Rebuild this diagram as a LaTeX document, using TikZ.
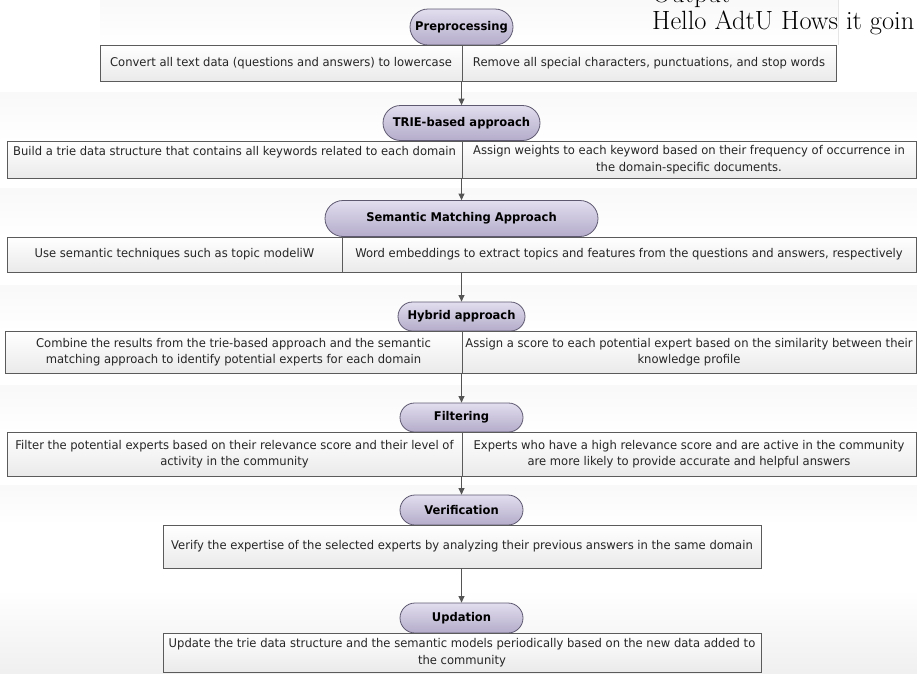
\documentclass[tikz,border=0pt]{standalone}
\usepackage{fontspec}
\usetikzlibrary{shapes.misc,arrows.meta,shadows}
\newfontfamily\dvsans[FakeStretch=0.96]{DejaVu Sans}
\definecolor{bordc}{HTML}{5B5B5B}
\definecolor{cellbot}{HTML}{EAEAEA}
\definecolor{pilltop}{HTML}{E2DDEE}
\definecolor{pillbot}{HTML}{B4ACCA}
\definecolor{pillbord}{HTML}{5E5870}
\definecolor{arrc}{HTML}{555555}
\definecolor{textc}{HTML}{262626}
\begin{document}
\begin{tikzpicture}[x=1pt,y=-1pt,
  cell/.style={draw=bordc, line width=0.8pt, top color=white, bottom color=cellbot,
    inner sep=0pt, align=center, text=textc,
    font=\dvsans\fontsize{12.05}{16.5}\selectfont,
    drop shadow={opacity=0.18, shadow xshift=0.8pt, shadow yshift=-1.2pt}},
  pill/.style={rounded rectangle, draw=pillbord, line width=0.8pt, top color=pilltop,
    bottom color=pillbot, inner sep=0pt, text=black,
    font=\dvsans\bfseries\fontsize{12}{14}\selectfont},
  arr/.style={draw=arrc, line width=1pt, -{Triangle[length=6.5pt,width=6pt]}},
  band/.style={top color=gray!5, bottom color=white, draw=none}
]
\useasboundingbox (0,0) rectangle (917,673);
\clip (0,0) rectangle (917,673);
% background bands
\path[band] (100,0) rectangle (838,45);
\draw[gray!20, line width=0.6pt] (838,0) -- (838,45);
\path[band] (0,92) rectangle (917,141);
\path[band] (0,188) rectangle (917,237);
\path[band] (0,285) rectangle (917,331);
\path[band] (0,385) rectangle (917,432);
\path[band] (0,485) rectangle (917,525);
\path[top color=white, bottom color=gray!12] (0,590) rectangle (917,673);

% output text
\node[anchor=base west, inner sep=0pt, font=\fontsize{26.4}{30}\selectfont] (outlbl) at (652,2) {Output};
\node[anchor=base west, inner sep=0pt, font=\fontsize{26.4}{30}\selectfont] (outtxt) at (652,29) {Hello AdtU Hows it goin};

% pills
\node[pill, minimum width=103pt, minimum height=36pt] (p1) at (461.5,27) {Preprocessing};
\node[pill, minimum width=157pt, minimum height=35pt] (p2) at (461.5,123) {TRIE-based approach};
\node[pill, minimum width=273pt, minimum height=36pt] (p3) at (461.5,218.5) {Semantic Matching Approach};
\node[pill, minimum width=127pt, minimum height=29pt] (p4) at (461.5,316.5) {Hybrid approach};
\node[pill, minimum width=123pt, minimum height=29pt] (p5) at (461.5,417.5) {Filtering};
\node[pill, minimum width=123pt, minimum height=30pt] (p6) at (461.5,510) {Verification};
\node[pill, minimum width=123pt, minimum height=30pt] (p7) at (461.5,618) {Updation};

% rows
\node[cell, minimum width=362pt, minimum height=36pt] (r1l) at (281,63) {Convert all text data (questions and answers) to lowercase};
\node[cell, minimum width=374pt, minimum height=36pt] (r1r) at (649,63) {Remove all special characters, punctuations, and stop words};

\node[cell, minimum width=455pt, minimum height=37pt] (r2l) at (234.5,159.5) {Build a trie data structure that contains all keywords related to each domain\\~};
\node[cell, minimum width=454pt, minimum height=37pt] (r2r) at (689,159.5) {Assign weights to each keyword based on their frequency of occurrence in\\the domain-specific documents.};

\node[cell, minimum width=335pt, minimum height=35pt] (r3l) at (174.5,254.5) {Use semantic techniques such as topic modeliW};
\node[cell, minimum width=574pt, minimum height=35pt] (r3r) at (629,254.5) {Word embeddings to extract topics and features from the questions and answers, respectively};

\node[cell, minimum width=457pt, minimum height=42pt] (r4l) at (233.5,352) {Combine the results from the trie-based approach and the semantic\\matching approach to identify potential experts for each domain};
\node[cell, minimum width=454pt, minimum height=42pt] (r4r) at (689,352) {Assign a score to each potential expert based on the similarity between their\\knowledge profile};

\node[cell, minimum width=455pt, minimum height=44pt] (r5l) at (234.5,454) {Filter the potential experts based on their relevance score and their level of\\activity in the community};
\node[cell, minimum width=454pt, minimum height=44pt] (r5r) at (689,454) {Experts who have a high relevance score and are active in the community\\are more likely to provide accurate and helpful answers};

\node[cell, minimum width=598pt, minimum height=43pt] (r6) at (462,546.5) {Verify the expertise of the selected experts by analyzing their previous answers in the same domain};
\node[cell, minimum width=598pt, minimum height=39pt] (r7) at (462,652.5) {Update the trie data structure and the semantic models periodically based on the new data added to\\the community};

% connectors
\draw[arr] (p2.north |- r1l.south) -- (p2.north);
\draw[arr] (p3.north |- r2l.south) -- (p3.north);
\draw[arr] (p4.north |- r3r.south) -- (p4.north);
\draw[arr] (p5.north |- r4l.south) -- (p5.north);
\draw[arr] (p6.north |- r5l.south) -- (p6.north);
\draw[arr] (p7.north |- r6.south) -- (p7.north);
\end{tikzpicture}
\end{document}
